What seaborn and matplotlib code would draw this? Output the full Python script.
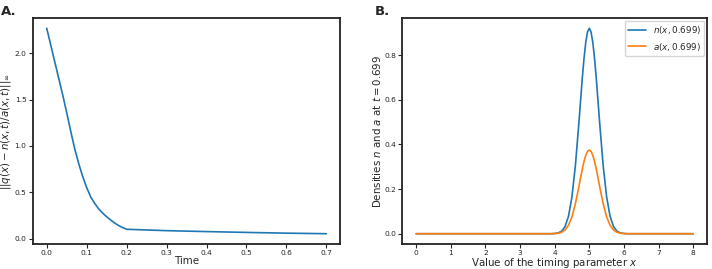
import numpy as np
import pandas as pd
import seaborn as sns
import matplotlib
matplotlib.use("Agg")
import matplotlib.pyplot as plt

# panel A: sup-norm distance over time
time = [0.00, 0.01, 0.02, 0.03, 0.04, 0.05, 0.06, 0.07, 0.08, 0.09, 0.10,
        0.11, 0.12, 0.13, 0.14, 0.15, 0.16, 0.17, 0.18, 0.19, 0.20,
        0.30, 0.40, 0.50, 0.60, 0.70]
dist = [2.27, 2.09, 1.91, 1.73, 1.55, 1.36, 1.16, 0.97, 0.81, 0.67, 0.55,
        0.45, 0.38, 0.32, 0.275, 0.235, 0.20, 0.168, 0.14, 0.118, 0.10,
        0.085, 0.075, 0.066, 0.058, 0.052]

# panel B: densities at t = 0.699
x_vals = [0.0, 3.9, 4.0, 4.1, 4.2, 4.3, 4.4, 4.5, 4.6, 4.7, 4.75, 4.8, 4.85,
          4.9, 4.95, 5.0, 5.05, 5.1, 5.15, 5.2, 5.25, 5.3, 5.4, 5.5, 5.6,
          5.7, 5.8, 5.9, 6.0, 6.1, 8.0]
n_vals = [0.0, 0.0, 0.001, 0.0035, 0.011, 0.032, 0.078, 0.166, 0.307, 0.496,
          0.599, 0.700, 0.788, 0.859, 0.904, 0.920, 0.904, 0.859, 0.788,
          0.700, 0.599, 0.496, 0.307, 0.166, 0.078, 0.032, 0.011, 0.0035,
          0.001, 0.0, 0.0]
a_vals = [0.0, 0.0, 0.0006, 0.0021, 0.0063, 0.0165, 0.038, 0.076, 0.135,
          0.211, 0.252, 0.291, 0.325, 0.352, 0.369, 0.375, 0.369, 0.352,
          0.325, 0.291, 0.252, 0.211, 0.135, 0.076, 0.038, 0.0165, 0.0063,
          0.0021, 0.0006, 0.0, 0.0]

sns.set_style("ticks")
plt.rcParams['font.family'] = ['DejaVu Sans']
plt.rcParams['mathtext.fontset'] = 'dejavusans'

fig = plt.figure(figsize=(7.12, 2.69), dpi=100)
ax1 = fig.add_axes([0.046, 0.093, 0.432, 0.840])
ax2 = fig.add_axes([0.565, 0.093, 0.428, 0.840])

blue = "#1f77b4"
orange = "#ff7f0e"
lab_fs = 7.4

sns.lineplot(x=time, y=dist, ax=ax1, color=blue, linewidth=1.2)
ax1.set_xlabel("Time", fontsize=lab_fs, labelpad=0)
ax1.set_ylabel(r"$||q(x) - n(x,t)/a(x,t)||_\infty$", fontsize=lab_fs, labelpad=1)
ax1.set_xticks([0.0, 0.1, 0.2, 0.3, 0.4, 0.5, 0.6, 0.7])
ax1.set_yticks([0.0, 0.5, 1.0, 1.5, 2.0])

df = pd.DataFrame({"x": x_vals, "n": n_vals, "a": a_vals})
sns.lineplot(data=df, x="x", y="n", ax=ax2, color=blue, linewidth=1.2,
             label=r"$n(x, 0.699)$")
sns.lineplot(data=df, x="x", y="a", ax=ax2, color=orange, linewidth=1.2,
             label=r"$a(x, 0.699)$")
ax2.set_xlabel(r"Value of the timing parameter $x$", fontsize=lab_fs, labelpad=0)
ax2.set_ylabel(r"Densities $n$ and $a$ at $t = 0.699$", fontsize=lab_fs, labelpad=1)
ax2.set_xticks(range(0, 9))
ax2.set_yticks([0.0, 0.2, 0.4, 0.6, 0.8])
ax2.legend(loc="upper right", fontsize=6.3, frameon=True, handlelength=2.0,
           borderaxespad=0.3)

for ax in (ax1, ax2):
    ax.tick_params(labelsize=5.4, length=3, width=0.8, pad=1.5)
    for s in ax.spines.values():
        s.set_linewidth(1.3)
        s.set_color("#222222")

fig.text(0.002, 0.982, "A.", fontsize=9.5, fontweight="bold", va="top", ha="left")
fig.text(0.527, 0.982, "B.", fontsize=9.5, fontweight="bold", va="top", ha="left")

fig.savefig("out.png", dpi=100)
